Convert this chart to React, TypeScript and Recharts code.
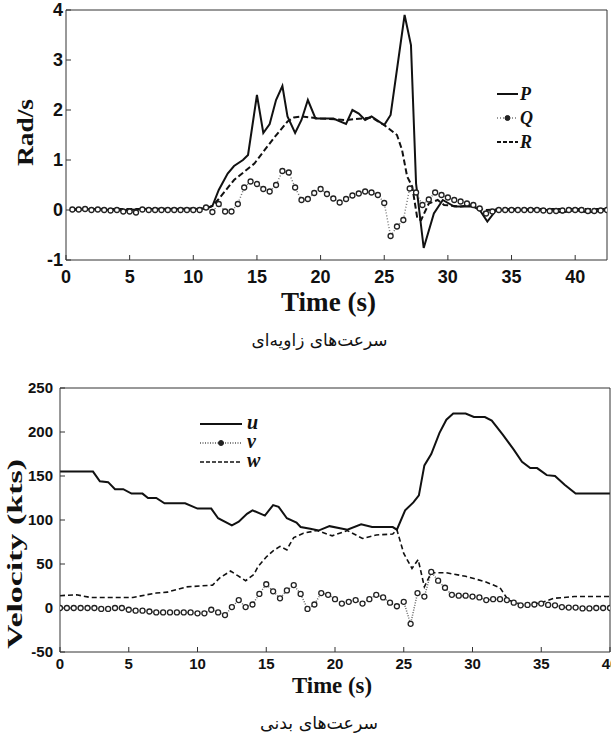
import React from 'react';
import { ComposedChart, Line, XAxis, YAxis, Legend, Label } from 'recharts';

// ---- angular rates (top panel), rad/s ----
const pTime = [0.5, 2, 3.5, 5, 6, 8, 10, 11, 11.5, 12, 12.7, 13.2, 13.9, 14.3, 15, 15.5, 16, 16.5, 17, 17.4, 18, 18.5, 19, 19.6, 20.5, 21, 22, 22.5, 23, 23.5, 24, 25, 25.5, 26.6, 27.1, 27.5, 28.1, 28.9, 29.6, 30.5, 32, 32.5, 33.1, 33.8, 35, 38, 39, 40, 41, 42.5];
const pRate = [0, 0.02, 0, 0, 0.02, 0.02, 0.02, 0.03, 0.08, 0.4, 0.73, 0.88, 1.0, 1.1, 2.3, 1.54, 1.72, 2.2, 2.48, 1.87, 1.54, 1.8, 2.2, 1.83, 1.83, 1.83, 1.72, 2.0, 1.93, 1.8, 1.87, 1.7, 1.9, 3.9, 3.3, 0.53, -0.76, -0.07, 0.2, 0.07, 0.07, 0.0, -0.23, 0, 0, 0, -0.05, 0, -0.05, 0];

const rTime = [0.5, 5, 11, 11.5, 12, 13.2, 14.8, 16.3, 17.4, 17.9, 18.5, 20, 22, 24, 25, 26, 26.4, 26.8, 27.2, 27.6, 27.9, 28.5, 29.2, 29.7, 31, 32, 32.8, 35, 42.5];
const rRate = [0.02, 0.02, 0.03, 0.08, 0.22, 0.6, 0.93, 1.43, 1.77, 1.85, 1.87, 1.83, 1.8, 1.85, 1.7, 1.5, 1.2, 0.67, 0.47, -0.17, -0.2, 0.13, 0.2, 0.1, 0.07, 0.1, 0.0, 0.02, 0.02];

// Q is sampled every 0.5 s starting at 0.5 s
const Q_START = 0.5;
const qRate = [
  0.01, 0.01, 0.02, 0, 0.01, 0, -0.01, 0, -0.03, -0.03,
  -0.05, 0.01, 0, 0, 0, 0, 0, 0, 0, 0,
  0, 0.05, -0.04, 0.12, -0.03, -0.03, 0.12, 0.45, 0.57, 0.52,
  0.42, 0.37, 0.5, 0.78, 0.75, 0.45, 0.2, 0.22, 0.34, 0.42,
  0.32, 0.23, 0.15, 0.22, 0.29, 0.33, 0.37, 0.35, 0.3, 0.14,
  -0.52, -0.33, -0.2, 0.43, 0.35, 0.1, 0.21, 0.35, 0.3, 0.25,
  0.2, 0.17, 0.13, 0.1, 0.03, -0.07, -0.03, 0, 0, 0,
  0, 0, 0, 0, -0.01, -0.02, -0.02, -0.01, 0, 0,
  0, -0.02, -0.02, -0.01, 0,
];

const topTimeTicks = [0, 5, 10, 15, 20, 25, 30, 35, 40];
const rateTicks = [-1, 0, 1, 2, 3, 4];

// ---- body velocities (bottom panel), kts ----
const uTime = [0, 2.4, 2.9, 3.5, 4, 4.6, 5.2, 6, 6.4, 7, 7.6, 9.1, 10, 11, 11.5, 12.5, 13, 13.6, 14, 14.9, 15.5, 15.9, 16.5, 17.2, 17.5, 18.2, 18.8, 19.6, 20.9, 21.9, 22.7, 24.2, 24.5, 25.1, 25.7, 26.1, 26.5, 27, 27.6, 28.1, 28.6, 29.5, 30.1, 30.9, 31.4, 32.2, 33, 33.6, 34.2, 34.7, 35.4, 36, 36.7, 37.5, 40];
const uVel = [155, 155, 144, 143, 135, 135, 130, 130, 125, 125, 119, 119, 113, 113, 102, 94, 98, 107, 111, 105, 117, 115, 102, 97, 92, 90, 88, 93, 89, 95, 92, 92, 89, 111, 120, 128, 162, 175, 199, 214, 221, 221, 217, 217, 213, 197, 180, 166, 159, 159, 151, 150, 140, 130, 130];

const wTime = [0, 1.2, 2.2, 5.3, 6.3, 7, 7.8, 9.2, 11.1, 11.6, 12.4, 12.9, 13.5, 14.1, 14.4, 15, 15.5, 16, 16.5, 16.7, 17, 17.7, 18.7, 19.8, 20.9, 22, 23, 24.2, 24.5, 25, 25.6, 26.05, 26.5, 27, 28.1, 29.5, 30.9, 32, 32.6, 33.6, 34.9, 35.9, 37.4, 40];
const wVel = [14, 15, 12, 12, 15, 17, 18, 24, 26, 34, 42, 37, 31, 38, 47, 58, 65, 70, 66, 72, 80, 85, 88, 82, 88, 79, 83, 84, 89, 62, 45, 55, 24, 40, 40, 36, 30, 23, 9, 4, 5.5, 11, 13, 13];

// v is sampled every 0.5 s starting at 0 s
const V_START = 0;
const vVel = [
  0, 0, 0, 0, 0, 0, -1, -1, 0, 0,
  -2, -3, -3, -4, -5, -5, -5, -5, -5, -5,
  -6, -6, -2, -5, -8, 1, 9, 1, 4, 16,
  27, 19, 11, 20, 26, 16, -1, 4, 17, 15,
  10, 5, 7, 9, 5, 10, 15, 12, 6, 2,
  7, -18, 17, 13, 41, 31, 23, 15, 14, 14,
  13, 12, 9, 10, 10, 9, 6, 3, 3.5, 4,
  5, 3.5, 3, 1, 0.5, 0.5, -0.5, -0.5, 0, 0,
  0,
];

const bottomTimeTicks = [0, 5, 10, 15, 20, 25, 30, 35, 40];
const velTicks = [-50, 0, 50, 100, 150, 200, 250];

const STEP = 0.5;
const zip = (t: number[], y: number[]) => t.map((x, i) => ({ t: x, y: y[i] }));
const sampled = (start: number, y: number[]) => y.map((v, i) => ({ t: start + i * STEP, y: v }));

const SANS = "'Liberation Sans', Arial, sans-serif";
const SERIF = "'Liberation Serif', 'Times New Roman', serif";
const ARABIC = "'DejaVu Sans', sans-serif";
const INK = '#111';
const FRAME = '#333';

// horizontal text squeezed/stretched to a fixed length, anchored at its start
const FitText = ({ cx, cy, len, children, ...rest }: any) => (
  <text x={cx - len / 2} y={cy} textLength={len} lengthAdjust="spacingAndGlyphs" {...rest}>{children}</text>
);

const xTitle = (o: { titleDx: number; titleDy: number; titleSize: number; titleLen: number; caption: string; capDx: number; capDy: number; capLen: number }) =>
  (props: any) => {
    const vb = props.viewBox;
    const cx = vb.x + vb.width / 2;
    return (
      <g>
        <FitText cx={cx + o.titleDx} cy={vb.y + o.titleDy} len={o.titleLen} fill={INK}
          fontFamily={SERIF} fontWeight={700} fontSize={o.titleSize}>Time (s)</FitText>
        <FitText cx={cx + o.capDx} cy={vb.y + o.capDy} len={o.capLen} fill={INK}
          fontFamily={ARABIC} fontSize={17}>{o.caption}</FitText>
      </g>
    );
  };

// rotated title, read bottom-to-top; (x, bottom) is where the first letter starts
const yTitle = (text: string, x: number, bottom: number, size: number, len: number) =>
  () => (
    <text x={x} y={bottom} transform={`rotate(-90 ${x} ${bottom})`} dominantBaseline="central"
      textLength={len} lengthAdjust="spacingAndGlyphs"
      fill={INK} fontFamily={SERIF} fontWeight={700} fontSize={size}>{text}</text>
  );

const legendText = { fontFamily: SERIF, fontStyle: 'italic' as const, fontWeight: 700, fill: INK };

const RateLegend = () => (
  <svg width={60} height={70}>
    <line x1={2} x2={23} y1={12} y2={12} stroke={INK} strokeWidth={2} />
    <text x={25} y={18} fontSize={18} {...legendText}>P</text>
    <line x1={2} x2={23} y1={36} y2={36} stroke="#777" strokeWidth={1.5} strokeDasharray="1 2" />
    <circle cx={12.5} cy={36} r={2.5} fill="#222" stroke="#222" />
    <text x={25} y={42} fontSize={18} {...legendText}>Q</text>
    <line x1={2} x2={23} y1={60} y2={60} stroke={INK} strokeWidth={2} strokeDasharray="4 2" />
    <text x={25} y={66} fontSize={18} {...legendText}>R</text>
  </svg>
);

const VelLegend = () => (
  <svg width={80} height={62}>
    <line x1={5} x2={47} y1={12} y2={12} stroke={INK} strokeWidth={2} />
    <text x={52} y={17} fontSize={20} {...legendText}>u</text>
    <line x1={5} x2={47} y1={31} y2={31} stroke="#555" strokeWidth={1.5} strokeDasharray="1 1.5" />
    <circle cx={26} cy={31} r={2.5} fill="#222" stroke="#222" />
    <text x={52} y={36} fontSize={20} {...legendText}>v</text>
    <line x1={5} x2={47} y1={50} y2={50} stroke={INK} strokeWidth={1.5} strokeDasharray="4 2" />
    <text x={52} y={55} fontSize={20} {...legendText}>w</text>
  </svg>
);

const RatesChart = () => (
  <ComposedChart width={611} height={360} margin={{ top: 9, right: 3, bottom: 0, left: 0 }}>
    <XAxis xAxisId="b" type="number" dataKey="t" domain={[0, 42.5]} ticks={topTimeTicks} interval={0}
      height={100} tickSize={-5} tickMargin={15} stroke={FRAME} tickLine={{ stroke: FRAME }}
      tick={{ fill: INK, fontSize: 18, fontWeight: 700, fontFamily: SANS }} allowDataOverflow>
      <Label content={xTitle({ titleDx: -8, titleDy: 51, titleSize: 27, titleLen: 95, caption: 'سرعت‌های زاویه‌ای', capDx: -17, capDy: 86, capLen: 136 })} />
    </XAxis>
    <XAxis xAxisId="t" orientation="top" type="number" dataKey="t" domain={[0, 42.5]} ticks={topTimeTicks} interval={0}
      height={1} tickSize={-5} tick={false} stroke={FRAME} tickLine={{ stroke: FRAME }} allowDataOverflow />
    <YAxis yAxisId="l" type="number" domain={[-1, 4]} ticks={rateTicks} interval={0} width={66}
      tickSize={-5} tickMargin={8} stroke={FRAME} tickLine={{ stroke: FRAME }}
      tick={{ fill: INK, fontSize: 18, fontWeight: 700, fontFamily: SANS }} allowDataOverflow>
      <Label content={yTitle('Rad/s', 25, 166, 24, 67)} />
    </YAxis>
    <YAxis yAxisId="r" orientation="right" type="number" domain={[-1, 4]} ticks={rateTicks} interval={0} width={1}
      tickSize={-5} tick={false} stroke={FRAME} tickLine={{ stroke: FRAME }} allowDataOverflow />
    <Legend layout="vertical" align="center" verticalAlign="middle" content={<RateLegend />}
      wrapperStyle={{ left: 495, top: 82, width: 60, height: 70 }} />
    <Line xAxisId="b" yAxisId="l" data={sampled(Q_START, qRate)} dataKey="y" type="linear" stroke="#777" strokeWidth={1.5}
      strokeDasharray="1 2" dot={{ r: 2.5, stroke: '#222', strokeWidth: 1.3, fill: '#fff', strokeDasharray: '' }}
      activeDot={false} isAnimationActive={false} />
    <Line xAxisId="b" yAxisId="l" data={zip(rTime, rRate)} dataKey="y" type="linear" stroke={INK} strokeWidth={2}
      strokeDasharray="6 3" dot={false} activeDot={false} isAnimationActive={false} />
    <Line xAxisId="b" yAxisId="l" data={zip(pTime, pRate)} dataKey="y" type="linear" stroke={INK} strokeWidth={2}
      dot={false} activeDot={false} isAnimationActive={false} />
  </ComposedChart>
);

const VelocityChart = () => (
  <ComposedChart width={611} height={368} margin={{ top: 17, right: 0, bottom: 0, left: 0 }}>
    <XAxis xAxisId="b" type="number" dataKey="t" domain={[0, 40]} ticks={bottomTimeTicks} interval={0}
      height={86} tickSize={-5} tickMargin={11} stroke={FRAME} tickLine={{ stroke: FRAME }}
      tick={{ fill: INK, fontSize: 15, fontWeight: 700, fontFamily: SANS }} allowDataOverflow>
      <Label content={xTitle({ titleDx: -3, titleDy: 41, titleSize: 24, titleLen: 80, caption: 'سرعت‌های بدنی', capDx: -16, capDy: 77, capLen: 118 })} />
    </XAxis>
    <XAxis xAxisId="t" orientation="top" type="number" dataKey="t" domain={[0, 40]} ticks={bottomTimeTicks} interval={0}
      height={1} tickSize={-5} tick={false} stroke={FRAME} tickLine={{ stroke: FRAME }} allowDataOverflow />
    <YAxis yAxisId="l" type="number" domain={[-50, 250]} ticks={velTicks} interval={0} width={60}
      tickSize={-5} tickMargin={12} stroke={FRAME} tickLine={{ stroke: FRAME }}
      tick={{ fill: INK, fontSize: 15, fontWeight: 700, fontFamily: SANS }} allowDataOverflow>
      <Label content={yTitle('Velocity (kts)', 14, 279, 22, 190)} />
    </YAxis>
    <YAxis yAxisId="r" orientation="right" type="number" domain={[-50, 250]} ticks={velTicks} interval={0} width={1}
      tickSize={-5} tick={false} stroke={FRAME} tickLine={{ stroke: FRAME }} allowDataOverflow />
    <Legend layout="vertical" align="center" verticalAlign="middle" content={<VelLegend />}
      wrapperStyle={{ left: 195, top: 42, width: 80, height: 62 }} />
    <Line xAxisId="b" yAxisId="l" data={sampled(V_START, vVel)} dataKey="y" type="linear" stroke="#666" strokeWidth={1.5}
      strokeDasharray="1 1.5" dot={{ r: 2.5, stroke: '#222', strokeWidth: 1.3, fill: '#fff', strokeDasharray: '' }}
      activeDot={false} isAnimationActive={false} />
    <Line xAxisId="b" yAxisId="l" data={zip(wTime, wVel)} dataKey="y" type="linear" stroke={INK} strokeWidth={1.6}
      strokeDasharray="5 3" dot={false} activeDot={false} isAnimationActive={false} />
    <Line xAxisId="b" yAxisId="l" data={zip(uTime, uVel)} dataKey="y" type="linear" stroke={INK} strokeWidth={2}
      dot={false} activeDot={false} isAnimationActive={false} />
  </ComposedChart>
);

export default function App() {
  return (
    <div style={{ position: 'absolute', left: 0, top: 0, width: 611, height: 738, background: '#fff', overflow: 'hidden' }}>
      <div style={{ position: 'absolute', left: 0, top: 0 }}>
        <RatesChart />
      </div>
      <div style={{ position: 'absolute', left: 0, top: 370 }}>
        <VelocityChart />
      </div>
    </div>
  );
}
